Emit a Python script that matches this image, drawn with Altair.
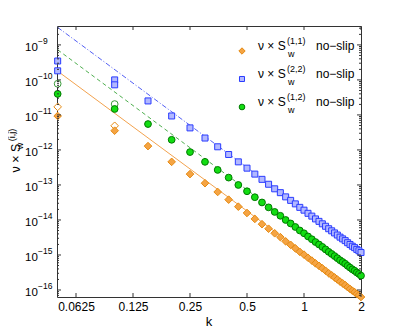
import altair as alt
import pandas as pd

# ---------------- data (log10 of the values) ----------------
k_values = [0.05, 0.10, 0.15, 0.20, 0.25, 0.30, 0.35, 0.40, 0.45, 0.50,
            0.55, 0.60, 0.65, 0.70, 0.75, 0.80, 0.85, 0.90, 0.95, 1.00,
            1.05, 1.10, 1.15, 1.20, 1.25, 1.30, 1.35, 1.40, 1.45, 1.50,
            1.55, 1.60, 1.65, 1.70, 1.75, 1.80, 1.85, 1.90, 1.95, 2.00]

orange_exp = [-11.03, -11.45, -11.89, -12.34, -12.69, -12.95, -13.20, -13.42, -13.62, -13.80,
              -13.97, -14.12, -14.25, -14.38, -14.49, -14.61, -14.71, -14.81, -14.91, -14.99,
              -15.08, -15.16, -15.24, -15.31, -15.38, -15.45, -15.52, -15.58, -15.64, -15.70,
              -15.76, -15.81, -15.86, -15.92, -15.97, -16.02, -16.06, -16.11, -16.15, -16.20]

blue_exp = [-9.74, -10.14, -10.60, -11.03, -11.37, -11.66, -11.91, -12.13, -12.34, -12.52,
            -12.69, -12.84, -12.98, -13.11, -13.22, -13.34, -13.44, -13.54, -13.64, -13.72,
            -13.81, -13.89, -13.97, -14.04, -14.11, -14.18, -14.25, -14.31, -14.37, -14.43,
            -14.49, -14.54, -14.59, -14.65, -14.70, -14.75, -14.79, -14.84, -14.88, -14.93]

green_exp = [-10.40, -10.83, -11.26, -11.71, -12.06, -12.34, -12.57, -12.79, -13.00, -13.18,
             -13.35, -13.50, -13.64, -13.77, -13.88, -14.00, -14.10, -14.20, -14.30, -14.38,
             -14.47, -14.55, -14.63, -14.70, -14.77, -14.84, -14.91, -14.97, -15.03, -15.09,
             -15.15, -15.20, -15.25, -15.31, -15.36, -15.41, -15.45, -15.50, -15.54, -15.59]

open_k = [0.05, 0.10]
orange_open_exp = [-10.77, -11.31]
blue_open_exp = [-9.46, -10.00]
green_open_exp = [-10.11, -10.69]

fit_k = [0.05, 2.0]
orange_fit_exp = [-9.75, -16.15]
blue_fit_exp = [-8.50, -14.91]
green_fit_exp = [-9.14, -15.55]

x_ticks = [0.0625, 0.125, 0.25, 0.5, 1, 2]
y_decades = [-16, -15, -14, -13, -12, -11, -10, -9]
x_domain = [0.0496, 2.0]
y_domain_exp = [-16.2, -8.46]

legend_labels = ["(1,1)", "(2,2)", "(1,2)"]

# ---------------- styling ----------------
W, H = 304, 271
FONT = "Liberation Sans"
AX = "#333333"

OR_FILL, OR_EDGE = "#F5A443", "#E58A12"
BL_FILL, BL_EDGE = "#B2B8FF", "#2A3CFF"
GR_FILL, GR_EDGE = "#12DD12", "#007A00"

D_SIZE, S_SIZE, C_SIZE = 58, 36, 46

xs = alt.Scale(type="log", base=2, domain=x_domain, nice=False)
ys = alt.Scale(type="log", domain=[10 ** y_domain_exp[0], 10 ** y_domain_exp[1]], nice=False)
xaxis = alt.Axis(values=x_ticks, format="~g", ticks=False, domain=False, grid=False,
                 labelFontSize=12, labelFont=FONT, labelColor="#000", title=None,
                 labelPadding=4, labelFlush=False, labelOverlap=False)


def frame(ks, exps):
    return pd.DataFrame({"k": ks, "v": [10 ** e for e in exps]})


def X():
    return alt.X("k:Q", scale=xs, axis=xaxis)


def Y():
    return alt.Y("v:Q", scale=ys, axis=None)


one = pd.DataFrame({"_": [0]})
layers = []

# fitted lines
for exps, col, dash in [(orange_fit_exp, "#F2A24E", None),
                        (green_fit_exp, "#4FAF4F", [4, 3]),
                        (blue_fit_exp, "#5460F5", [5, 2, 1, 2])]:
    kw = dict(color=col, strokeWidth=1, clip=True)
    if dash:
        kw["strokeDash"] = dash
    layers.append(alt.Chart(frame(fit_k, exps)).mark_line(**kw).encode(x=X(), y=Y()))


def pts(df, shape, fill, stroke, size):
    return alt.Chart(df).mark_point(shape=shape, filled=True, fill=fill, stroke=stroke,
                                    strokeWidth=1, size=size, opacity=1,
                                    fillOpacity=1, strokeOpacity=1).encode(x=X(), y=Y())


# open markers (second set at small k)
layers.append(pts(frame(open_k, orange_open_exp), "diamond", "#FFFFFF", OR_EDGE, D_SIZE))
layers.append(pts(frame(open_k, blue_open_exp), "square", BL_FILL, BL_EDGE, S_SIZE))
layers.append(pts(frame(open_k, green_open_exp), "circle", "#FFFFFF", "#3A9A3A", C_SIZE))
# main series
layers.append(pts(frame(k_values, orange_exp), "diamond", OR_FILL, OR_EDGE, D_SIZE))
layers.append(pts(frame(k_values, blue_exp), "square", BL_FILL, BL_EDGE, S_SIZE))
layers.append(pts(frame(k_values, green_exp), "circle", GR_FILL, GR_EDGE, C_SIZE))

# tick marks (inside, all four sides)
xt = pd.DataFrame({"k": x_ticks})
layers.append(alt.Chart(xt).mark_rule(color=AX, strokeWidth=1).encode(
    x=X(), y=alt.value(H), y2=alt.value(H - 4)))
layers.append(alt.Chart(xt).mark_rule(color=AX, strokeWidth=1).encode(
    x=X(), y=alt.value(0), y2=alt.value(4)))

yt = pd.DataFrame({"v": [10 ** e for e in y_decades],
                   "lab": ["\u2212" + str(abs(e)) for e in y_decades]})
lo, hi = 10 ** y_domain_exp[0], 10 ** y_domain_exp[1]
minor_vals = [m * 10 ** e for e in range(-17, -8) for m in range(2, 10)]
ym = pd.DataFrame({"v": [v for v in minor_vals if lo <= v <= hi]})
for x0, x1 in [(0, 4), (W, W - 4)]:
    layers.append(alt.Chart(yt).mark_rule(color=AX, strokeWidth=1).encode(
        y=Y(), x=alt.value(x0), x2=alt.value(x1)))
for x0, x1 in [(0, 2), (W, W - 2)]:
    layers.append(alt.Chart(ym).mark_rule(color=AX, strokeWidth=1).encode(
        y=Y(), x=alt.value(x0), x2=alt.value(x1)))

# y tick labels 10^n
layers.append(alt.Chart(yt).mark_text(text="10", align="left", baseline="middle", dy=3,
                                      font=FONT, fontSize=11.5, color="#000").encode(
    y=Y(), x=alt.value(-32)))
layers.append(alt.Chart(yt).mark_text(align="left", baseline="middle", dy=-4,
                                      font=FONT, fontSize=8.5, color="#000").encode(
    y=Y(), x=alt.value(-19), text="lab:N"))


def txt(s, x, y, size=12, align="left", angle=0):
    return alt.Chart(one).mark_text(text=s, align=align, baseline="middle", font=FONT,
                                    fontSize=size, color="#000", angle=angle).encode(
        x=alt.value(x), y=alt.value(y))


# axis titles
layers.append(txt("k", W / 2, 296, size=13, align="center"))
layers.append(txt("\u03bd \u00d7 S", -41, 132, size=12.5, align="center", angle=270))
layers.append(txt("(i,j)", -45, 109, size=9, align="center", angle=270))
layers.append(txt("w", -37.5, 120, size=9, align="center", angle=270))

# legend
leg = [("diamond", OR_FILL, OR_EDGE, D_SIZE), ("square", BL_FILL, BL_EDGE, S_SIZE),
       ("circle", GR_FILL, GR_EDGE, C_SIZE)]
for i, (lab, (shape, fill, stroke, size)) in enumerate(zip(legend_labels, leg)):
    dy = 28 * i
    layers.append(alt.Chart(one).mark_point(shape=shape, filled=True, fill=fill, stroke=stroke,
                                            strokeWidth=1, size=size * 0.7, opacity=1).encode(
        x=alt.value(185), y=alt.value(25 + dy)))
    layers.append(txt("\u03bd \u00d7 S", 201, 20 + dy, size=12))
    layers.append(txt(lab, 230, 15 + dy, size=9))
    layers.append(txt("w", 231, 28 + dy, size=9))
    layers.append(txt("no\u2212slip", 259, 20 + dy, size=12))

chart = alt.layer(*layers).properties(
    width=W, height=H,
    autosize=alt.AutoSizeParams(type="none"),
    padding={"left": 49, "top": 18, "right": 30, "bottom": 38},
    background="white",
).configure_view(stroke=AX, strokeWidth=1)

chart.save("out.html", embed_options={"renderer": "svg", "actions": False})
